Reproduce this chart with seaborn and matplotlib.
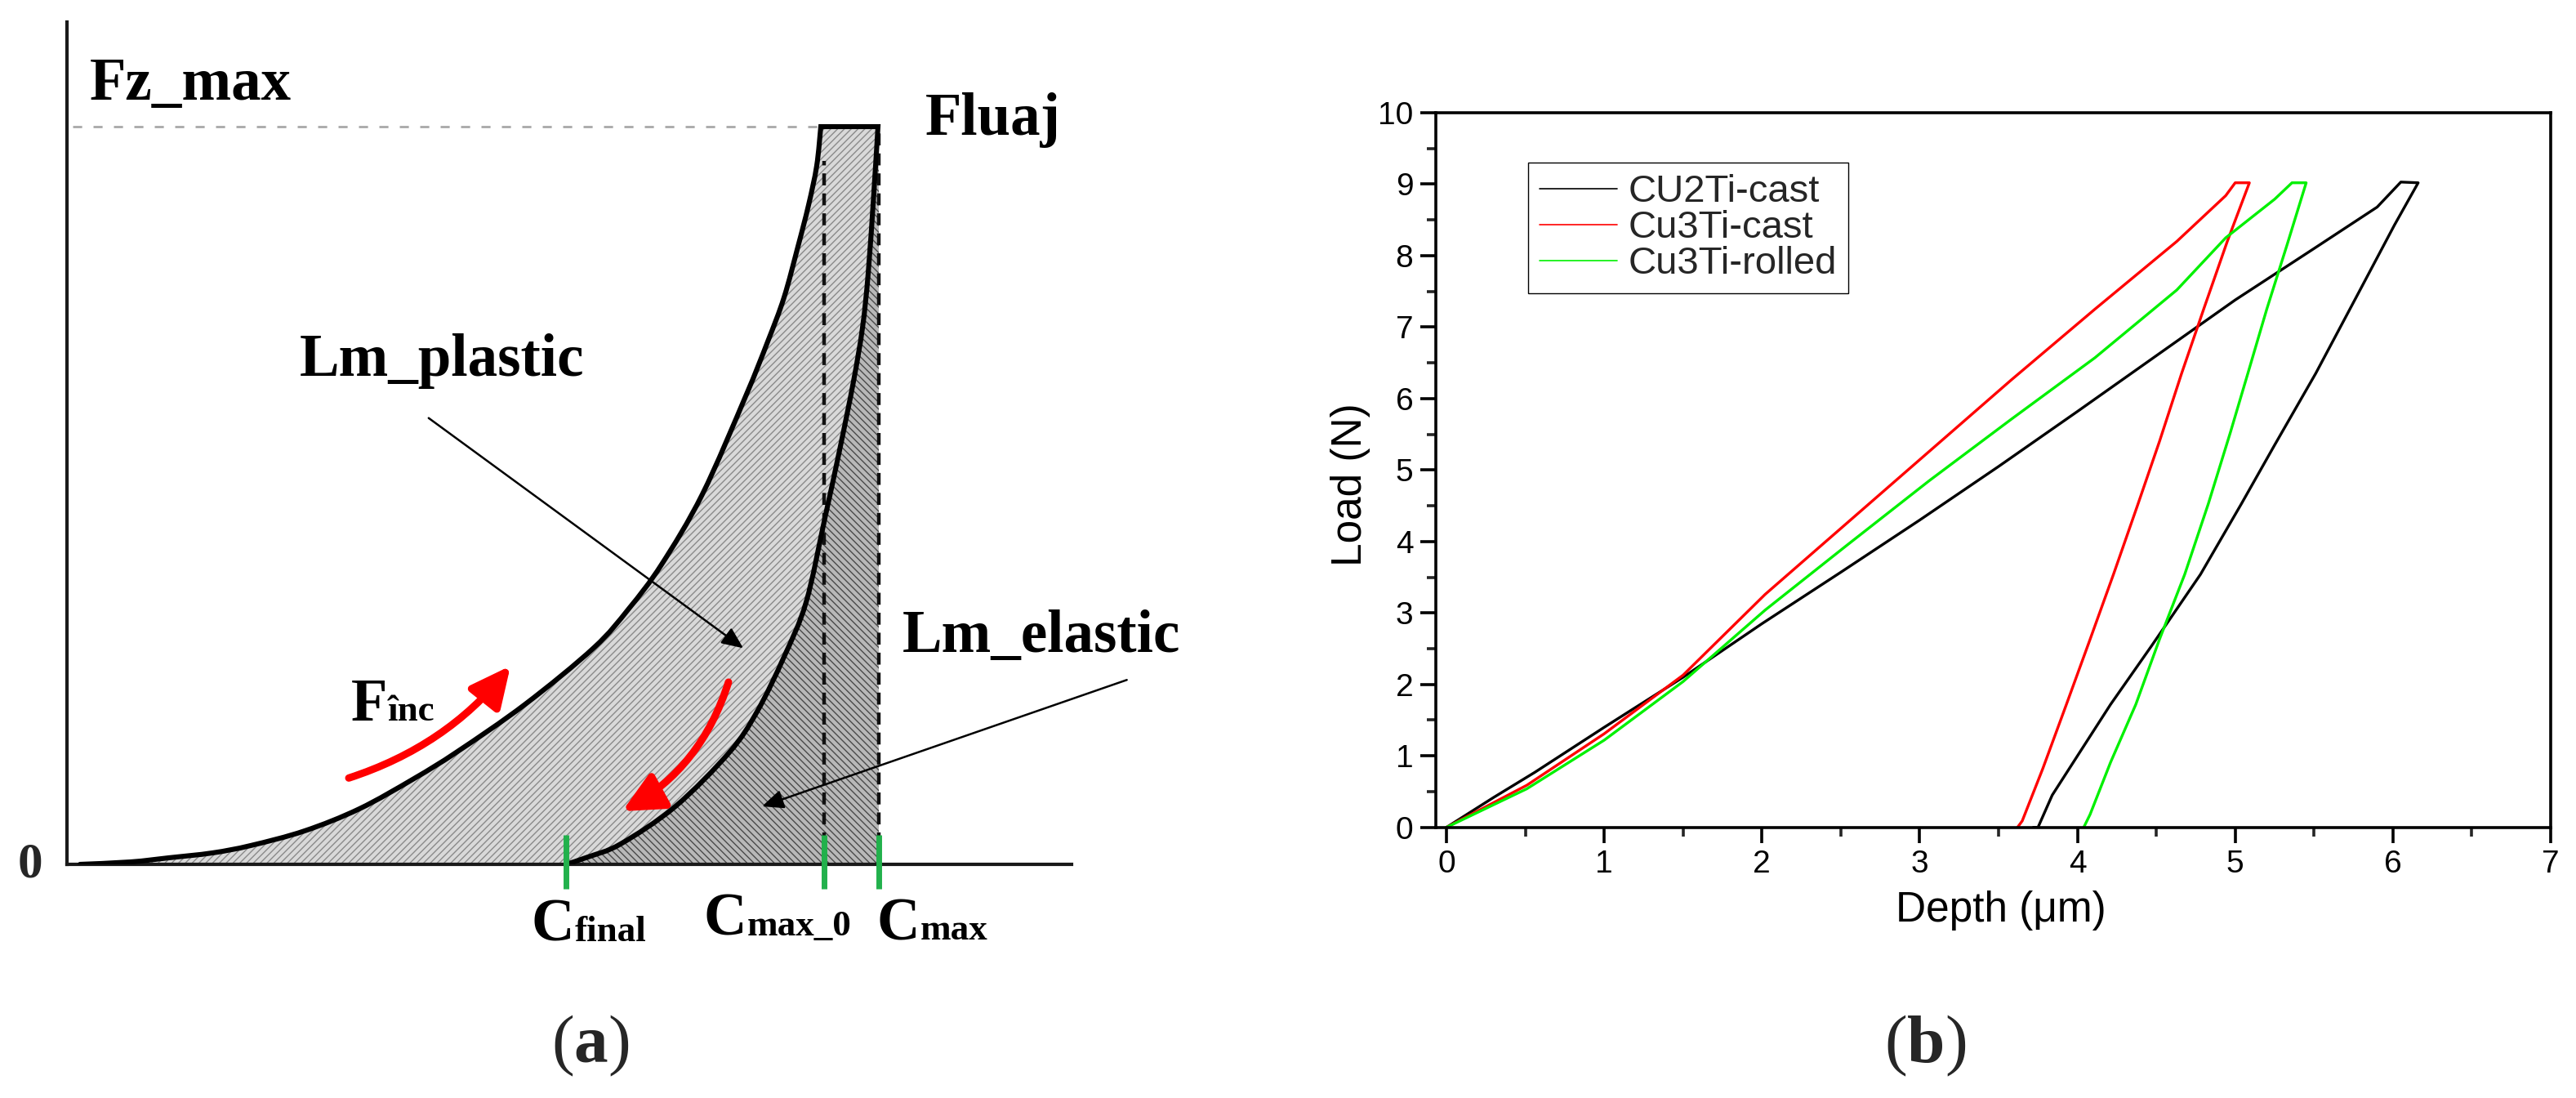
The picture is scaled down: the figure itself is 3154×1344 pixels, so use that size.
import numpy as np
import pandas as pd
import matplotlib
matplotlib.use("Agg")
import matplotlib.pyplot as plt
import seaborn as sns
from matplotlib.patches import FancyArrowPatch, PathPatch
from matplotlib.path import Path
from matplotlib.ticker import MultipleLocator

# ---------------- panel (b) data: load-depth curves ----------------
samples = ["CU2Ti-cast", "Cu3Ti-cast", "Cu3Ti-rolled"]
sample_colors = ["#000000", "#ff0000", "#00f000"]

cu2ti_cast_depth = [0, 0.30, 0.56, 1.00, 1.50, 2.00, 2.50, 3.00, 3.50, 4.00, 4.50, 5.00, 5.50, 5.90, 6.05,
                    6.16, 6.01, 5.77, 5.51, 5.25, 5.04, 4.78, 4.47, 4.21, 4.00, 3.84, 3.75, 3.72]
cu2ti_cast_load = [0, 0.42, 0.77, 1.40, 2.10, 2.85, 3.57, 4.30, 5.05, 5.82, 6.60, 7.38, 8.10, 8.68, 9.03,
                   9.02, 8.43, 7.43, 6.35, 5.35, 4.53, 3.54, 2.54, 1.72, 1.00, 0.45, 0.00, 0.00]

cu3ti_cast_depth = [0, 0.51, 1.00, 1.50, 2.02, 2.54, 3.06, 3.58, 4.11, 4.63, 4.94, 5.00,
                    5.09, 4.95, 4.80, 4.66, 4.52, 4.38, 4.23, 4.08, 3.93, 3.78, 3.65, 3.62]
cu3ti_cast_load = [0, 0.59, 1.31, 2.13, 3.26, 4.26, 5.26, 6.26, 7.25, 8.20, 8.84, 9.02,
                   9.02, 8.20, 7.25, 6.35, 5.40, 4.50, 3.55, 2.63, 1.72, 0.82, 0.09, 0.00]

cu3ti_rolled_depth = [0, 0.51, 1.00, 1.50, 2.02, 2.54, 3.06, 3.58, 4.11, 4.63, 4.94, 5.25, 5.36,
                      5.45, 5.33, 5.20, 5.08, 4.97, 4.83, 4.68, 4.52, 4.37, 4.21, 4.08, 4.04]
cu3ti_rolled_load = [0, 0.54, 1.22, 2.04, 3.04, 3.95, 4.85, 5.71, 6.57, 7.52, 8.25, 8.79, 9.02,
                     9.02, 8.16, 7.25, 6.35, 5.53, 4.53, 3.54, 2.63, 1.72, 0.91, 0.18, 0.00]

x_ticks_b = [0, 1, 2, 3, 4, 5, 6, 7]
y_ticks_b = [0, 1, 2, 3, 4, 5, 6, 7, 8, 9, 10]

# ---------------- panel (a) data: schematic indentation curve ----------------
loading_depth = [0.130, 0.634, 1.016, 1.447, 1.829, 2.366, 2.911, 3.455, 3.886, 4.561, 5.244, 5.593,
                 5.919, 6.325, 6.756, 6.976, 7.138, 7.276, 7.382, 7.463, 7.504]
loading_force = [0.0, 0.0033, 0.0089, 0.0155, 0.0255, 0.0454, 0.0753, 0.1163, 0.1528, 0.2170, 0.2935,
                 0.3466, 0.4065, 0.5017, 0.6346, 0.7088, 0.7685, 0.8372, 0.8937, 0.9468, 1.0]
unloading_depth = [8.073, 8.033, 7.976, 7.919, 7.829, 7.691, 7.545, 7.358, 7.138, 6.870, 6.593,
                   6.057, 5.512, 5.187, 4.967]
unloading_force = [1.0, 0.9125, 0.8018, 0.7276, 0.6545, 0.5615, 0.4696, 0.3555, 0.2813, 0.2071, 0.1517,
                   0.0786, 0.0277, 0.0100, 0.0]
c_final, c_max0, c_max = 4.967, 7.54, 8.081
fz_max = 1.0

# ---------------- style ----------------
sns.set_style("ticks")
narrow = ["Liberation Sans Narrow", "Liberation Sans", "DejaVu Sans"]
plt.rcParams["font.family"] = narrow
plt.rcParams["mathtext.fontset"] = "custom"
plt.rcParams["mathtext.rm"] = "Liberation Serif"
plt.rcParams["mathtext.bf"] = "Liberation Serif:bold"
plt.rcParams["hatch.linewidth"] = 1.0
serif = "Liberation Serif"

W, H = 3154, 1344
fig = plt.figure(figsize=(W / 100, H / 100), dpi=100, facecolor="white")


def smooth_segments(xs, ys):
    """Bezier (Catmull-Rom) segments through the read points, drawn by matplotlib Path."""
    p = np.column_stack([xs, ys]).astype(float)
    n = len(p)
    verts, codes = [], []
    for i in range(n - 1):
        p0 = p[i - 1] if i > 0 else p[i]
        p1, p2 = p[i], p[i + 1]
        p3 = p[i + 2] if i + 2 < n else p[i + 1]
        verts += [tuple(p1 + (p2 - p0) / 6.0), tuple(p2 - (p3 - p1) / 6.0), tuple(p2)]
        codes += [Path.CURVE4] * 3
    return verts, codes


# ================= panel (a) =================
axL = fig.add_axes([82 / W, 1 - 1058 / H, (1312 - 82) / W, (1058 - 27) / H])
axL.set_xlim(0, 10)
axL.set_ylim(0, 1031 / 903)
axL.set_facecolor("none")
for s in ["top", "right"]:
    axL.spines[s].set_visible(False)
for s in ["left", "bottom"]:
    axL.spines[s].set_linewidth(3.0)
    axL.spines[s].set_color("#1a1a1a")
axL.set_xticks([])
axL.set_yticks([])

lv, lc = smooth_segments(loading_depth, loading_force)
uv, uc = smooth_segments(unloading_depth, unloading_force)
start_l = (loading_depth[0], loading_force[0])
start_u = (unloading_depth[0], unloading_force[0])

# outline: loading -> plateau -> unloading
outline = Path([start_l] + lv + [start_u] + uv, [Path.MOVETO] + lc + [Path.LINETO] + uc)
# plastic region
plastic = Path([start_l] + lv + [start_u] + uv + [start_l, start_l],
               [Path.MOVETO] + lc + [Path.LINETO] + uc + [Path.LINETO, Path.CLOSEPOLY])
# elastic region
elastic = Path([start_u] + uv + [(c_max, 0.0), (c_max, fz_max), start_u],
               [Path.MOVETO] + uc + [Path.LINETO, Path.LINETO, Path.CLOSEPOLY])

axL.add_patch(PathPatch(plastic, facecolor="#d9d9d9", edgecolor="#8a8a8a", hatch="////", lw=0, zorder=1))
axL.add_patch(PathPatch(elastic, facecolor="#b8b8b8", edgecolor="#4a4a4a", hatch="\\\\\\\\", lw=0, zorder=1))

# Fz_max dashed line
axL.plot([0.057, loading_depth[-1]], [fz_max, fz_max], color="#a8a8a8", lw=2.0, dashes=(4, 5), zorder=2)
# vertical dashed lines
axL.plot([c_max0, c_max0], [0, 0.953], color="#111111", lw=3.2, dashes=(3.3, 2.2), zorder=3)
axL.plot([c_max, c_max], [0, fz_max], color="#111111", lw=3.2, dashes=(3.3, 2.2), zorder=3)
axL.add_patch(PathPatch(outline, facecolor="none", edgecolor="black", lw=4.4, joinstyle="miter",
                        capstyle="round", zorder=4))

# green ticks on axis
for c in [c_final, c_max0, c_max]:
    axL.plot([c, c], [-0.033, 0.040], color="#22b14c", lw=5, clip_on=False, zorder=5, solid_capstyle="butt")

# red arrows
red_kw = dict(arrowstyle="-|>,head_length=1.35,head_width=0.65", mutation_scale=22, color="#ff0000",
              lw=6.5, shrinkA=0, shrinkB=0, zorder=6)
axL.add_patch(FancyArrowPatch((2.805, 0.117), (4.415, 0.269), connectionstyle="arc3,rad=0.15", **red_kw))
axL.add_patch(FancyArrowPatch((6.585, 0.247), (5.528, 0.072), connectionstyle="arc3,rad=-0.2", **red_kw))

# black pointer arrows
blk = dict(arrowstyle="-|>,head_length=0.8,head_width=0.35", mutation_scale=20, color="black",
           lw=1.8, shrinkA=0, shrinkB=0)
axL.annotate("", xy=(6.732, 0.293), xytext=(3.60, 0.605), arrowprops=blk, annotation_clip=False, zorder=7)
axL.annotate("", xy=(6.919, 0.0786), xytext=(10.55, 0.250), arrowprops=blk, annotation_clip=False, zorder=7)

big = 52.5
small = 32.5
tk = dict(family=serif, weight="bold", color="black", va="baseline", ha="left", clip_on=False)
axL.text(0.228, 1.0365, "Fz_max", fontsize=big, **tk)
axL.text(8.545, 0.989, "Fluaj", fontsize=big, **tk)
axL.text(2.317, 0.662, "Lm_plastic", fontsize=big, **tk)
axL.text(8.317, 0.288, "Lm_elastic", fontsize=big, **tk)
axL.text(2.829, 0.195, "F", fontsize=big, **tk)
axL.text(3.195, 0.195, "înc", fontsize=small, **tk)
axL.text(4.626, -0.104, "C", fontsize=big, **tk)
axL.text(5.057, -0.104, "final", fontsize=small, **tk)
axL.text(6.341, -0.0963, "C", fontsize=big, **tk)
axL.text(6.772, -0.0963, "max_0", fontsize=small, **tk)
axL.text(8.065, -0.102, "C", fontsize=big, **tk)
axL.text(8.496, -0.102, "max", fontsize=small, **tk)
axL.text(-0.37, 0.0, "0", fontsize=44, family=serif, weight="bold", ha="center", va="center", clip_on=False)

# ================= panel (b) =================
axR = fig.add_axes([1757.5 / W, 1 - 1012.7 / H, (3123 - 1757.5) / W, (1012.7 - 138) / H])

frames = []
depth_lists = [cu2ti_cast_depth, cu3ti_cast_depth, cu3ti_rolled_depth]
load_lists = [cu2ti_cast_load, cu3ti_cast_load, cu3ti_rolled_load]
for name, d, l in zip(samples, depth_lists, load_lists):
    frames.append(pd.DataFrame({"Depth": d, "Load": l, "Sample": name}))
df = pd.concat(frames, ignore_index=True)

sns.lineplot(data=df, x="Depth", y="Load", hue="Sample", hue_order=samples,
             palette=dict(zip(samples, sample_colors)), sort=False, estimator=None,
             errorbar=None, linewidth=2.4, ax=axR)

axR.set_xlim(-0.07, 7)
axR.set_ylim(0, 10)
axR.set_xticks(x_ticks_b)
axR.set_yticks(y_ticks_b)
axR.xaxis.set_minor_locator(MultipleLocator(0.5))
axR.yaxis.set_minor_locator(MultipleLocator(0.5))
for s in axR.spines.values():
    s.set_visible(True)
    s.set_linewidth(2.6)
    s.set_color("black")
axR.tick_params(which="major", direction="out", length=13.5, width=2.6, labelsize=28, pad=6,
                colors="black", top=False, right=False)
axR.tick_params(which="minor", direction="out", length=8, width=2.6, top=False, right=False)

axR.set_xlabel("Depth (μm)", fontsize=37, color="black")
axR.set_ylabel("Load (N)", fontsize=37, color="black")
axR.xaxis.set_label_coords(0.507, -0.088)
axR.yaxis.set_label_coords(-0.058, 0.48)

handles, labels = axR.get_legend_handles_labels()
leg = axR.legend(handles, labels, loc="upper left", bbox_to_anchor=(1871 / W, 1 - 199 / H),
                 bbox_transform=fig.transFigure, fontsize=34, frameon=True, fancybox=False,
                 edgecolor="black", framealpha=1, borderpad=0.3, labelspacing=0.0,
                 handlelength=2.0, handletextpad=0.3, borderaxespad=0)
leg.get_frame().set_linewidth(1.0)
for h in leg.get_lines():
    h.set_linewidth(1.2)

# panel labels
fig.text(723 / W, 1 - 1300 / H, r"$(\mathbf{a})$", fontsize=60, ha="center", va="baseline")
fig.text(2357 / W, 1 - 1300 / H, r"$(\mathbf{b})$", fontsize=60, ha="center", va="baseline")

fig.savefig("out.png", dpi=100, facecolor="white")
